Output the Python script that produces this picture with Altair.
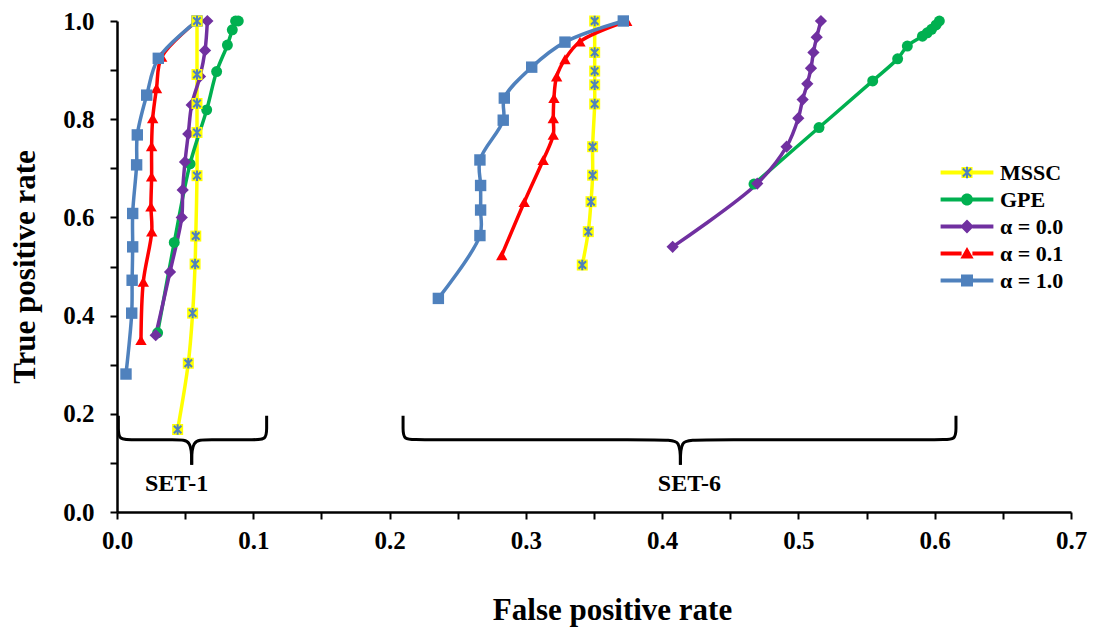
import altair as alt
import pandas as pd

FONT = "Liberation Serif"

# ---------------- data ----------------
series_names = ["MSSC", "GPE", "α = 0.0", "α = 0.1", "α = 1.0"]
series_colors = ["#FFFF00", "#00B050", "#7030A0", "#FF0000", "#4F81BD"]
marker_shapes = ["square", "circle", "diamond", "triangle-up", "square"]
marker_sizes = [121, 120, 150, 130, 130]

# MSSC
mssc_s1_x = [0.0445, 0.0523, 0.0555, 0.0573, 0.0578, 0.0587, 0.0587, 0.0587, 0.0587, 0.0587]
mssc_s1_y = [0.168, 0.303, 0.405, 0.505, 0.562, 0.685, 0.773, 0.832, 0.891, 1.0]
mssc_s6_x = [0.3414, 0.3458, 0.3478, 0.3490, 0.3490, 0.3505, 0.3505, 0.3505, 0.3505, 0.3505]
mssc_s6_y = [0.503, 0.571, 0.632, 0.686, 0.744, 0.831, 0.870, 0.898, 0.936, 1.0]
# GPE
gpe_s1_x = [0.0298, 0.0420, 0.0536, 0.0658, 0.0731, 0.0810, 0.0846, 0.0870, 0.0890]
gpe_s1_y = [0.365, 0.549, 0.709, 0.819, 0.897, 0.951, 0.982, 1.0, 1.0]
gpe_s6_x = [0.4674, 0.5151, 0.5545, 0.5728, 0.5799, 0.5910, 0.5945, 0.5977, 0.6010, 0.6034]
gpe_s6_y = [0.668, 0.783, 0.878, 0.923, 0.949, 0.969, 0.976, 0.983, 0.992, 1.0]
# alpha = 0.0
a0_s1_x = [0.0284, 0.0389, 0.0475, 0.0482, 0.0499, 0.0523, 0.0548, 0.0609, 0.0646, 0.0663]
a0_s1_y = [0.360, 0.489, 0.600, 0.656, 0.713, 0.770, 0.829, 0.887, 0.940, 1.0]
a0_s6_x = [0.4077, 0.4698, 0.4913, 0.4999, 0.5031, 0.5065, 0.5092, 0.5110, 0.5134, 0.5165]
a0_s6_y = [0.540, 0.669, 0.744, 0.802, 0.840, 0.872, 0.904, 0.936, 0.967, 1.0]
# alpha = 0.1
a01_s1_x = [0.0176, 0.0193, 0.0255, 0.0249, 0.0254, 0.0254, 0.0262, 0.0290, 0.0328, 0.0587]
a01_s1_y = [0.350, 0.469, 0.571, 0.622, 0.683, 0.745, 0.802, 0.863, 0.927, 1.0]
a01_s6_x = [0.2823, 0.2988, 0.3127, 0.3201, 0.3201, 0.3206, 0.3226, 0.3287, 0.3397, 0.3740]
a01_s6_y = [0.523, 0.631, 0.717, 0.768, 0.802, 0.843, 0.887, 0.922, 0.958, 1.0]
# alpha = 1.0
a1_s1_x = [0.0066, 0.0108, 0.0111, 0.0115, 0.0115, 0.0144, 0.0149, 0.0218, 0.0303, 0.0587]
a1_s1_y = [0.281, 0.405, 0.472, 0.540, 0.608, 0.707, 0.768, 0.849, 0.924, 1.0]
a1_s6_x = [0.2358, 0.2663, 0.2668, 0.2668, 0.2663, 0.2834, 0.2842, 0.3043, 0.3287, 0.3715]
a1_s6_y = [0.435, 0.563, 0.615, 0.665, 0.717, 0.798, 0.843, 0.906, 0.957, 1.0]

series_data = {
    "MSSC": [(mssc_s1_x, mssc_s1_y), (mssc_s6_x, mssc_s6_y)],
    "GPE": [(gpe_s1_x, gpe_s1_y), (gpe_s6_x, gpe_s6_y)],
    "α = 0.0": [(a0_s1_x, a0_s1_y), (a0_s6_x, a0_s6_y)],
    "α = 0.1": [(a01_s1_x, a01_s1_y), (a01_s6_x, a01_s6_y)],
    "α = 1.0": [(a1_s1_x, a1_s1_y), (a1_s6_x, a1_s6_y)],
}
set_names = ["SET-1", "SET-6"]

# brace annotations (data coordinates)
brace_parts = ["b1L", "b1R", "b6L", "b6R"]
brace_x = {
    "b1L": [0.001, 0.001, 0.001, 0.012, 0.044, 0.0548, 0.0548],
    "b1R": [0.1098, 0.1098, 0.1098, 0.099, 0.066, 0.0548, 0.0548],
    "b6L": [0.2099, 0.2099, 0.2099, 0.221, 0.403, 0.4134, 0.4134],
    "b6R": [0.6156, 0.6156, 0.6156, 0.6045, 0.424, 0.4134, 0.4134],
}
brace_y = [0.196, 0.170, 0.147, 0.147, 0.147, 0.147, 0.096]
set_label_x = [0.0437, 0.420]
set_label_y = [0.057, 0.057]

x_ticks = [0.0, 0.05, 0.1, 0.15, 0.2, 0.25, 0.3, 0.35, 0.4, 0.45, 0.5, 0.55, 0.6, 0.65, 0.7]
y_ticks = [0.0, 0.1, 0.2, 0.3, 0.4, 0.5, 0.6, 0.7, 0.8, 0.9, 1.0]

# legend symbol paths (line + marker)
LINE_L = "M-4.4,-0.33L-0.9,-0.33L-0.9,0.33L-4.4,0.33Z"
LINE_R = "M0.9,-0.33L4.4,-0.33L4.4,0.33L0.9,0.33Z"
legend_paths = [
    LINE_L + LINE_R + "M-0.92,-0.92L0.92,-0.92L0.92,0.92L-0.92,0.92Z",
    LINE_L + LINE_R + "M1,0A1,1 0 1,1 -1,0A1,1 0 1,1 1,0Z",
    LINE_L + LINE_R + "M0,-1.15L1.15,0L0,1.15L-1.15,0Z",
    LINE_L + LINE_R + "M0,-1.1L1.1,0.85L-1.1,0.85Z",
    LINE_L + LINE_R + "M-1,-1L1,-1L1,1L-1,1Z",
]
ASTERISK = "M-0.68,-0.68L0.68,0.68M-0.68,0.68L0.68,-0.68M0,-0.95L0,0.95"
star_color = "#4F81BD"

# ---------------- tables ----------------
rows = []
for si, name in enumerate(series_names):
    for k, (xs_, ys_) in enumerate(series_data[name]):
        for i, (xv, yv) in enumerate(zip(xs_, ys_)):
            rows.append({
                "series": name, "set": set_names[k], "key": f"{si}-{k}",
                "idx": i, "x": xv, "y": yv,
                "color": series_colors[si], "shape": marker_shapes[si],
                "msize": marker_sizes[si],
                "starseries": name,
            })
df = pd.DataFrame(rows)

brows = []
for p in brace_parts:
    for i, (xv, yv) in enumerate(zip(brace_x[p], brace_y)):
        brows.append({"part": p, "idx": i, "x": xv, "y": yv})
df_brace = pd.DataFrame(brows)
df_lab = pd.DataFrame({"x": set_label_x, "y": set_label_y, "text": set_names})

xs = alt.Scale(domain=[0, 0.7], nice=False, zero=False)
ys = alt.Scale(domain=[0, 1.0], nice=False, zero=False)

X = alt.X("x:Q", scale=xs, axis=alt.Axis(
    values=x_ticks, title="False positive rate", labelPadding=9,
    labelExpr="abs(datum.value*10 - round(datum.value*10)) < 0.001 ? format(datum.value, '.1f') : ''",
    titleX=495, titleY=98, titleBaseline="middle"))
Y = alt.Y("y:Q", scale=ys, axis=alt.Axis(
    values=y_ticks, title="True positive rate", labelPadding=16,
    labelExpr="round(datum.value*10) % 2 == 0 ? format(datum.value, '.1f') : ''",
    titleX=-92, titleY=245.5, titleBaseline="middle"))

braces = alt.Chart(df_brace).mark_line(
    interpolate="basis", color="black", strokeWidth=3
).encode(x=X, y=Y, detail="part:N", order="idx:Q")

labels = alt.Chart(df_lab).mark_text(
    font=FONT, fontWeight="bold", fontSize=24, color="black"
).encode(x="x:Q", y="y:Q", text="text:N")

lines = alt.Chart(df).mark_line(
    interpolate="catmull-rom", strokeWidth=3.5
).encode(
    x="x:Q", y="y:Q",
    color=alt.Color("color:N", scale=None),
    detail="key:N", order="idx:Q",
)

others = alt.Chart(df).transform_filter("datum.series != 'MSSC'").mark_point(
    filled=True, opacity=1
).encode(
    x="x:Q", y="y:Q",
    color=alt.Color("color:N", scale=None),
    shape=alt.Shape("shape:N", scale=None),
    size=alt.Size("msize:Q", scale=None),
)

mssc_sq = alt.Chart(df).transform_filter("datum.series == 'MSSC'").mark_point(
    filled=True, opacity=1, shape="square", size=121, color="#FFFF00"
).encode(x="x:Q", y="y:Q")

legend_common = dict(
    orient="none", legendX=839, legendY=140.5, title=None, padding=0,
    labelFont=FONT, labelFontSize=22, labelFontWeight="bold", labelColor="black",
    symbolSize=144, labelOffset=22, rowPadding=5, symbolStrokeWidth=2,
)

mssc_star = alt.Chart(df).transform_filter("datum.series == 'MSSC'").mark_point(
    filled=False, opacity=1, size=121, shape=ASTERISK, strokeWidth=2
).encode(
    x="x:Q", y="y:Q",
    stroke=alt.Stroke("starseries:N",
                      scale=alt.Scale(domain=["MSSC"], range=[star_color]),
                      legend=alt.Legend(labelOpacity=0, symbolType=ASTERISK,
                                        symbolFillColor="transparent", **legend_common)),
)

legend_layer = alt.Chart(df).transform_filter("false").mark_point(
    filled=True, opacity=1
).encode(
    x="x:Q", y="y:Q",
    color=alt.Color("series:N", scale=alt.Scale(domain=series_names, range=series_colors),
                    legend=alt.Legend(**legend_common)),
    shape=alt.Shape("series:N", scale=alt.Scale(domain=series_names, range=legend_paths),
                    legend=alt.Legend(**legend_common)),
)

chart = alt.layer(
    braces, labels, lines, others, mssc_sq, legend_layer, mssc_star
).properties(
    width=954, height=491,
    padding={"left": 117, "top": 21, "right": 23, "bottom": 125},
    autosize=alt.AutoSizeParams(type="none"),
    background="white",
).configure_view(stroke=None).configure_axis(
    grid=False, domainColor="black", domainWidth=2.5, tickColor="black",
    tickWidth=2, tickSize=7, labelFont=FONT, labelFontWeight="bold",
    labelFontSize=25, labelColor="black",
    titleFont=FONT, titleFontWeight="bold", titleFontSize=31, titleColor="black",
    labelFlush=False, labelOverlap=False,
)

chart.save("out.html", embed_options={"renderer": "svg", "actions": False})
